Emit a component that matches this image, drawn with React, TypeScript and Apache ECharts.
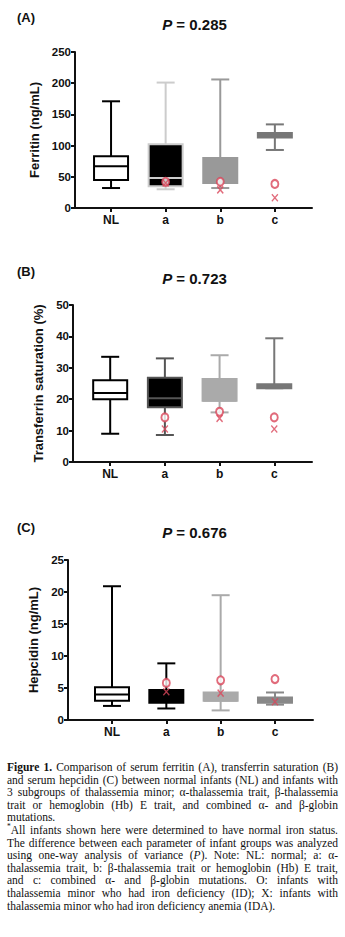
import React, { useEffect, useRef } from "react";
import * as echarts from "echarts";

const groups = ["NL", "a", "b", "c"];

// [min, Q1, median, Q3, max]
const ferritinBoxes = [
  [32, 45, 67, 83, 171],
  [30, 35, 48, 102, 201],
  [32, 40, 40, 80, 206],
  [93, 113, 116, 120, 134],
];
const ferritinID = [null, 42, 42, 38.5];
const ferritinIDA = [null, 40, 29, 16.5];

const transferrinBoxes = [
  [9, 20, 22, 26, 33.5],
  [8.6, 17.4, 20.3, 26.8, 33],
  [15.8, 19.5, 19.5, 26.4, 34],
  [23.5, 23.5, 24.2, 24.8, 39.4],
];
const transferrinID = [null, 14.2, 16, 14.2];
const transferrinIDA = [null, 10.5, 13.9, 10.5];

const hepcidinBoxes = [
  [2.2, 3.0, 4.0, 5.1, 20.9],
  [1.8, 2.7, 3.5, 4.7, 8.85],
  [1.5, 3.0, 3.0, 4.3, 19.5],
  [2.4, 2.7, 3.0, 3.5, 4.3],
];
const hepcidinID = [null, 5.8, 6.2, 6.4];
const hepcidinIDA = [null, 4.4, 4.2, 2.85];

const ferritinTicks = { min: 0, max: 250, interval: 50 };
const transferrinTicks = { min: 0, max: 50, interval: 10 };
const hepcidinTicks = { min: 0, max: 25, interval: 5 };

const FONT = "'Liberation Sans', Arial, sans-serif";
const RED = "#d9465a";
const AXIS = "#111";

const panels = [
  {
    label: "(A)", p: "0.285", name: "Ferritin (ng/mL)",
    boxes: ferritinBoxes, id: ferritinID, ida: ferritinIDA, ticks: ferritinTicks,
    fills: ["#ffffff", "#000000", "#999999", "#777777"],
    strokes: ["#000000", "#cccccc", "#999999", "#777777"],
    grid: { left: 75, top: 52, height: 156, width: 237 },
    xr: [-0.66, 3.68], nameGap: 29.5, labelY: 17.5, titleY: 24,
  },
  {
    label: "(B)", p: "0.723", name: "Transferrin saturation (%)",
    boxes: transferrinBoxes, id: transferrinID, ida: transferrinIDA, ticks: transferrinTicks,
    fills: ["#ffffff", "#000000", "#aaaaaa", "#777777"],
    strokes: ["#000000", "#555555", "#aaaaaa", "#777777"],
    grid: { left: 73, top: 305, height: 157, width: 239 },
    xr: [-0.68, 3.69], nameGap: 23.5, labelY: 271.5, titleY: 278,
  },
  {
    label: "(C)", p: "0.676", name: "Hepcidin (ng/mL)",
    boxes: hepcidinBoxes, id: hepcidinID, ida: hepcidinIDA, ticks: hepcidinTicks,
    fills: ["#ffffff", "#000000", "#aaaaaa", "#888888"],
    strokes: ["#000000", "#000000", "#aaaaaa", "#888888"],
    grid: { left: 68, top: 560, height: 160, width: 245 },
    xr: [-0.81, 3.7], nameGap: 21.5, labelY: 527.5, titleY: 532,
  },
];

function makeRenderer(fills: string[], strokes: string[]) {
  return (params: any, api: any) => {
    const i = api.value(0);
    const pt = (k: number) => api.coord([i, api.value(k)]);
    const [x, yMin] = pt(1);
    const yQ1 = pt(2)[1];
    const yMed = pt(3)[1];
    const yQ3 = pt(4)[1];
    const yMax = pt(5)[1];
    const bw = 34;
    const cw = 18;
    const stroke = strokes[i];
    const fill = fills[i];
    const ls = { stroke, lineWidth: 2 };
    return {
      type: "group",
      children: [
        { type: "line", shape: { x1: x, y1: yMax, x2: x, y2: yQ3 }, style: ls },
        { type: "line", shape: { x1: x, y1: yQ1, x2: x, y2: yMin }, style: ls },
        { type: "line", shape: { x1: x - cw / 2, y1: yMax, x2: x + cw / 2, y2: yMax }, style: ls },
        { type: "line", shape: { x1: x - cw / 2, y1: yMin, x2: x + cw / 2, y2: yMin }, style: ls },
        {
          type: "rect",
          shape: { x: x - bw / 2, y: yQ3, width: bw, height: Math.max(yQ1 - yQ3, 1) },
          style: { fill, stroke, lineWidth: 2 },
        },
        { type: "line", shape: { x1: x - bw / 2, y1: yMed, x2: x + bw / 2, y2: yMed }, style: ls },
      ],
    };
  };
}

function buildOption() {
  const grid: any[] = [];
  const xAxis: any[] = [];
  const yAxis: any[] = [];
  const series: any[] = [];
  const graphic: any[] = [];

  panels.forEach((p, k) => {
    grid.push({ ...p.grid });
    xAxis.push({
      gridIndex: k, type: "value", min: p.xr[0], max: p.xr[1],
      axisLine: { show: true, onZero: false, lineStyle: { color: AXIS, width: 2 } },
      axisTick: { show: true, length: 4, customValues: [0, 1, 2, 3], lineStyle: { color: AXIS, width: 2 } },
      axisLabel: {
        customValues: [0, 1, 2, 3],
        formatter: (v: number) => groups[Math.round(v)] ?? "",
        fontFamily: FONT, fontWeight: "bold", fontSize: 12, color: AXIS, margin: 6,
      },
      splitLine: { show: false },
    });
    yAxis.push({
      gridIndex: k, type: "value",
      min: p.ticks.min, max: p.ticks.max, interval: p.ticks.interval,
      name: p.name, nameLocation: "middle", nameGap: p.nameGap,
      nameTextStyle: { fontFamily: FONT, fontWeight: "bold", fontSize: 13, color: AXIS },
      axisLine: { show: true, onZero: false, lineStyle: { color: AXIS, width: 2 } },
      axisTick: { show: true, length: 4, lineStyle: { color: AXIS, width: 2 } },
      axisLabel: { fontFamily: FONT, fontWeight: "bold", fontSize: 11.5, color: AXIS, margin: 4 },
      splitLine: { show: false },
    });
    series.push({
      type: "custom", xAxisIndex: k, yAxisIndex: k,
      renderItem: makeRenderer(p.fills, p.strokes),
      encode: { x: 0, y: [1, 2, 3, 4, 5] },
      data: p.boxes.map((b, i) => [i, ...b]),
      z: 2,
    });
    series.push({
      type: "scatter", xAxisIndex: k, yAxisIndex: k,
      symbol: "emptyCircle", symbolSize: [7, 8],
      itemStyle: { color: RED, borderColor: RED, borderWidth: 1.3 },
      data: p.id.map((v, i) => (v == null ? null : [i, v])).filter((d) => d),
      z: 5,
    });
    series.push({
      type: "scatter", xAxisIndex: k, yAxisIndex: k,
      symbol: "path://M0,0L10,10M10,0L0,10", symbolSize: [6, 7],
      itemStyle: { color: "none", borderColor: RED, borderWidth: 1.4 },
      data: p.ida.map((v, i) => (v == null ? null : [i, v])).filter((d) => d),
      z: 5,
    });
    graphic.push({
      type: "text", x: 17, y: p.labelY,
      style: { text: p.label, fontFamily: FONT, fontWeight: "bold", fontSize: 13, fill: AXIS, verticalAlign: "middle" },
    });
    graphic.push({
      type: "text", x: 194.5, y: p.titleY,
      style: {
        text: "{i|P}{n| = " + p.p + "}",
        align: "center", verticalAlign: "middle",
        fontFamily: FONT, fontWeight: "bold", fontSize: 15, fill: AXIS,
        rich: {
          i: { fontFamily: FONT, fontWeight: "bold", fontStyle: "italic", fontSize: 15, fill: AXIS },
          n: { fontFamily: FONT, fontWeight: "bold", fontSize: 15, fill: AXIS },
        },
      },
    });
  });

  return { animation: false, backgroundColor: "#fff", grid, xAxis, yAxis, series, graphic };
}

const captionLines: { node: React.ReactNode; justify: boolean }[] = [
  { node: <><b>Figure 1.</b> Comparison of serum ferritin (A), transferrin saturation (B)</>, justify: true },
  { node: <>and serum hepcidin (C) between normal infants (NL) and infants with</>, justify: true },
  { node: <>3 subgroups of thalassemia minor; α-thalassemia trait, β-thalassemia</>, justify: true },
  { node: <>trait or hemoglobin (Hb) E trait, and combined α- and β-globin</>, justify: true },
  { node: <>mutations.</>, justify: false },
  { node: <><sup style={{ fontSize: "0.65em", lineHeight: 0 }}>*</sup>All infants shown here were determined to have normal iron status.</>, justify: true },
  { node: <>The difference between each parameter of infant groups was analyzed</>, justify: true },
  { node: <>using one-way analysis of variance (<i>P</i>). Note: NL: normal; a: α-</>, justify: true },
  { node: <>thalassemia trait, b: β-thalassemia trait or hemoglobin (Hb) E trait,</>, justify: true },
  { node: <>and c: combined α- and β-globin mutations. O: infants with</>, justify: true },
  { node: <>thalassemia minor who had iron deficiency (ID); X: infants with</>, justify: true },
  { node: <>thalassemia minor who had iron deficiency anemia (IDA).</>, justify: false },
];

const CAP_TOP = 761;
const CAP_LH = 12.6;

export default function App() {
  const ref = useRef<HTMLDivElement>(null);
  useEffect(() => {
    if (!ref.current) return;
    const chart = echarts.init(ref.current, undefined, { renderer: "svg" });
    chart.setOption(buildOption() as any);
    return () => chart.dispose();
  }, []);
  return (
    <div style={{ position: "absolute", left: 0, top: 0, width: 345, height: 937, background: "#fff", overflow: "hidden" }}>
      <div ref={ref} style={{ position: "absolute", left: 0, top: 0, width: 345, height: 755 }} />
      {captionLines.map((l, i) => (
        <div
          key={i}
          style={{
            position: "absolute", left: 7, top: CAP_TOP + i * CAP_LH, width: 331, height: CAP_LH,
            lineHeight: CAP_LH + "px",
            fontFamily: "'Liberation Serif', 'Times New Roman', serif",
            fontSize: 11.5, color: "#111", whiteSpace: "nowrap",
            textAlign: l.justify ? "justify" : "left",
            textAlignLast: l.justify ? "justify" : "left",
          }}
        >
          {l.node}
        </div>
      ))}
    </div>
  );
}
